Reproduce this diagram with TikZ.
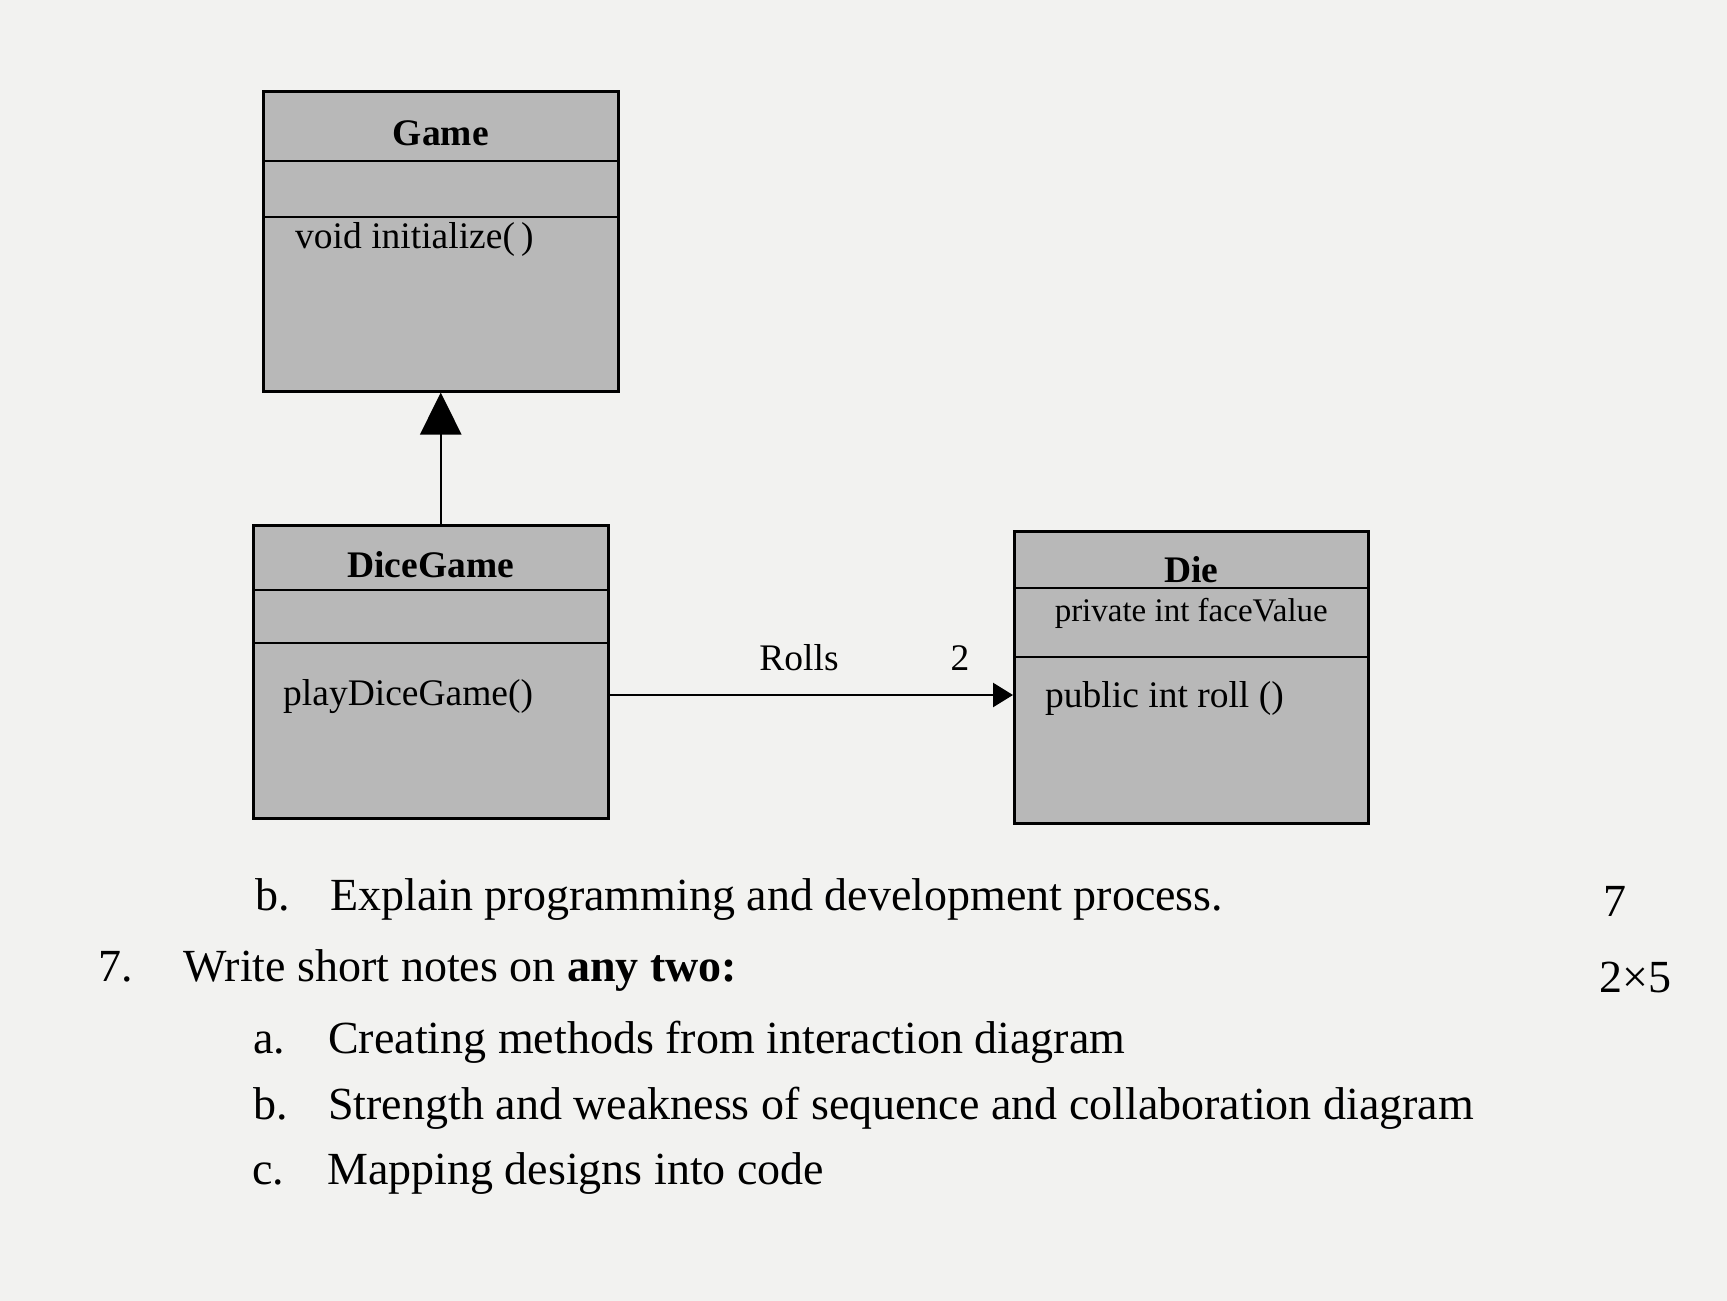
\documentclass[tikz,border=0pt]{standalone}
\usepackage{fontspec}
\setmainfont{Liberation Serif}
\usetikzlibrary{arrows.meta, positioning}
\definecolor{paper}{rgb}{0.95,0.95,0.94}
\definecolor{boxgray}{gray}{0.72}
\tikzset{
x=1pt, y=-1pt, % one unit is one pixel of the scan, y runs downwards
classbox/.style={draw, line width=2.5pt, fill=boxgray, inner sep=0pt, anchor=north west}, % outline of a class
divider/.style={line width=2.5pt}, % line between two compartments
classname/.style={inner sep=0pt, anchor=base, font=\fontsize{37.5}{40}\selectfont\bfseries},
member/.style={inner sep=0pt, anchor=base west, font=\fontsize{37.5}{40}\selectfont},
field/.style={inner sep=0pt, anchor=base, font=\fontsize{33}{36}\selectfont},
assoclabel/.style={inner sep=0pt, anchor=base, font=\fontsize{37.5}{40}\selectfont},
question/.style={inner sep=0pt, anchor=base west, font=\fontsize{46}{50}\selectfont},
generalization/.style={line width=2.5pt, -{Triangle[length=42pt, width=41pt]}}, % filled head up to the parent
association/.style={line width=2.5pt, -{Triangle[length=20pt, width=24pt]}}, % navigable association
}

\begin{document}
\begin{tikzpicture}
        \fill[paper] (0,0) rectangle (1727,1301);
        \useasboundingbox (0,0) rectangle (1727,1301);

        % the three classes
        \node[classbox, minimum width=355pt, minimum height=300pt] (game) at (262,90) {};
        \node[classbox, minimum width=355pt, minimum height=293pt] (dicegame) at (252,524) {};
        \node[classbox, minimum width=354pt, minimum height=292pt] (die) at (1013,530) {};

        \draw[divider] (game.west |- 0,161) -- (game.east |- 0,161)
        (game.west |- 0,217) -- (game.east |- 0,217);
        \draw[divider] (dicegame.west |- 0,590) -- (dicegame.east |- 0,590)
        (dicegame.west |- 0,643) -- (dicegame.east |- 0,643);
        \draw[divider] (die.west |- 0,588) -- (die.east |- 0,588)
        (die.west |- 0,657) -- (die.east |- 0,657);

        \node[classname] (gamename) at (game.north |- 0,145) {Game};
        \node[member] (gameinit) at (295,248) {void initialize(\,)};
        \node[classname] (dicegamename) at (dicegame.north |- 0,577) {DiceGame};
        \node[member] (dicegameplay) at (283,705) {playDiceGame()};
        \node[classname] (diename) at (die.north |- 0,582) {Die};
        \node[field] (diefield) at (die.north |- 0,621) {private int faceValue};
        \node[member] (dieroll) at (1045,707) {public int roll ()};

        % connectors
        \coordinate (rollrow) at (0,695);
        \draw[generalization] (dicegame.north -| game.south) -- (game.south);
        \draw[association] (dicegame.east |- rollrow) -- (die.west |- rollrow);
        \node[assoclabel] (rolls) at (799,670) {Rolls};
        \node[assoclabel] (mult) at (960,670) {2};

        % questions below the diagram
        \node[question] (qb) at (255,910) {b.};
        \node[question] (qbtext) at (330,910) {Explain programming and development process.};
        \node[question] (qbmarks) at (1603,916) {7};
        \node[question] (q7) at (98,981) {7.};
        \node[question] (q7text) at (183,981) {Write short notes on \textbf{any two:}};
        \node[question] (q7marks) at (1599,992) {2×5};
        \node[question] (q7a) at (253,1053) {a.};
        \node[question] (q7atext) at (328,1053) {Creating methods from interaction diagram};
        \node[question] (q7b) at (253,1119) {b.};
        \node[question] (q7btext) at (328,1119) {Strength and weakness of sequence and collaboration diagram};
        \node[question] (q7c) at (252,1184) {c.};
        \node[question] (q7ctext) at (327,1184) {Mapping designs into code};
      \end{tikzpicture}
\end{document}
